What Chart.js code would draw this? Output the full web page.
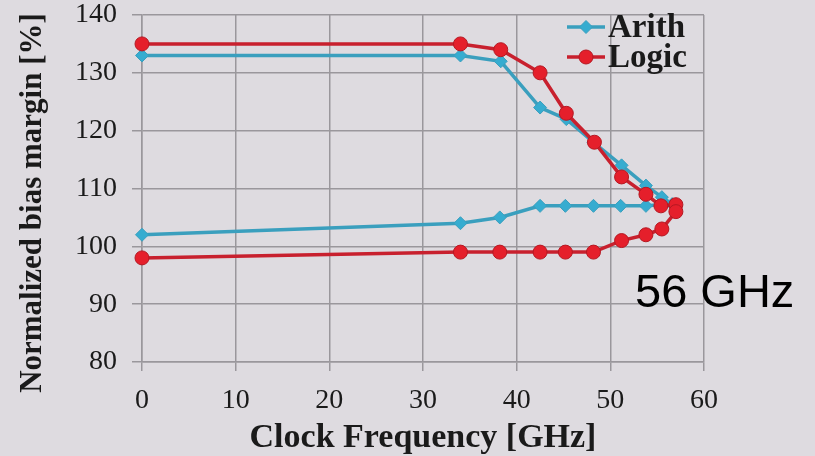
<!DOCTYPE html>
<html>
<head>
<meta charset="utf-8">
<script src="https://cdn.jsdelivr.net/npm/chart.js@4"></script>
<style>
  html, body { margin: 0; padding: 0; background: #dedbe0; }
  #wrap { width: 815px; height: 456px; }
</style>
</head>
<body>
<div id="wrap"><canvas id="c" width="815" height="456"></canvas></div>
<script>
// ---- data ----
const xTickValues = [0, 10, 20, 30, 40, 50, 60];
const yTickValues = [80, 90, 100, 110, 120, 130, 140];

const arithFreq   = [0, 34, 38.3, 42.5, 45.3, 48.2, 51.2, 53.8, 55.5, 56.6, 53.8, 51.1, 48.2, 45.2, 42.5, 38.2, 34, 0];
const arithMargin = [133, 133, 132, 124, 122, 118, 114, 110.5, 108.5, 107.3, 107, 107, 107, 107, 107, 105, 104, 102];

const logicFreq   = [0, 34, 38.3, 42.5, 45.3, 48.3, 51.2, 53.8, 55.4, 57, 57, 55.5, 53.8, 51.2, 48.2, 45.2, 42.5, 38.2, 34, 0];
const logicMargin = [135, 135, 134, 130, 123, 118, 112, 109, 107, 107.2, 106, 103, 102, 101, 99, 99, 99, 99, 99, 98];

const seriesNames = ['Arith', 'Logic'];
const xTitle = 'Clock Frequency [GHz]';
const yTitle = 'Normalized bias margin [%]';
const annotationText = '56 GHz';

// ---- styles ----
const TEAL_LINE = '#3a9fbe';
const TEAL_FILL = '#36acd0';
const RED_LINE = '#c8202e';
const RED_FILL = '#e51f2b';
const RED_EDGE = '#b51822';
const GRID = '#9a979c';
const TEXT = '#1a1a1a';
const SERIF = '"Liberation Serif", "DejaVu Serif", serif';

function pts(xs, ys) { return xs.map((x, i) => ({ x: x, y: ys[i] })); }

const overlay = {
  id: 'overlay',
  afterDraw(chart) {
    const ctx = chart.ctx;
    ctx.save();
    // y axis title
    ctx.fillStyle = TEXT;
    ctx.font = 'bold 31px ' + SERIF;
    ctx.textAlign = 'center';
    ctx.textBaseline = 'alphabetic';
    ctx.translate(41, 203);
    ctx.rotate(-Math.PI / 2);
    ctx.fillText(yTitle, 0, 0);
    ctx.restore();

    // legend
    const items = [
      { name: seriesNames[0], y: 27, line: TEAL_LINE, fill: TEAL_FILL, edge: TEAL_LINE, style: 'rectRot', r: 6.5 },
      { name: seriesNames[1], y: 57, line: RED_LINE, fill: RED_FILL, edge: RED_EDGE, style: 'circle', r: 7 }
    ];
    items.forEach(it => {
      ctx.save();
      ctx.strokeStyle = it.line;
      ctx.lineWidth = 3.5;
      ctx.beginPath();
      ctx.moveTo(567, it.y);
      ctx.lineTo(605, it.y);
      ctx.stroke();
      ctx.fillStyle = it.fill;
      ctx.strokeStyle = it.edge;
      ctx.lineWidth = 1;
      Chart.helpers.drawPoint(ctx, { pointStyle: it.style, radius: it.r, borderWidth: 1, rotation: 0 }, 586, it.y);
      ctx.fillStyle = TEXT;
      ctx.font = 'bold 33px ' + SERIF;
      ctx.textAlign = 'left';
      ctx.textBaseline = 'middle';
      ctx.fillText(it.name, 608, it.y + 1);
      ctx.restore();
    });

    // annotation
    ctx.save();
    ctx.fillStyle = '#000';
    ctx.font = '47px "Liberation Sans", Arial, sans-serif';
    ctx.textAlign = 'left';
    ctx.textBaseline = 'alphabetic';
    ctx.fillText(annotationText, 635, 307);
    ctx.restore();
  }
};

const bgPlugin = {
  id: 'bg',
  beforeDraw(chart) {
    const ctx = chart.ctx;
    ctx.save();
    ctx.fillStyle = '#dedbe0';
    ctx.fillRect(0, 0, chart.width, chart.height);
    ctx.restore();
  }
};

new Chart(document.getElementById('c'), {
  type: 'line',
  data: {
    datasets: [
      {
        label: seriesNames[0],
        data: pts(arithFreq, arithMargin),
        borderColor: TEAL_LINE,
        borderWidth: 3.5,
        backgroundColor: TEAL_FILL,
        pointStyle: 'rectRot',
        pointRadius: 6.5,
        pointBackgroundColor: TEAL_FILL,
        pointBorderColor: TEAL_LINE,
        pointBorderWidth: 1,
        tension: 0,
        clip: false,
        order: 2
      },
      {
        label: seriesNames[1],
        data: pts(logicFreq, logicMargin),
        borderColor: RED_LINE,
        borderWidth: 3.5,
        backgroundColor: RED_FILL,
        pointStyle: 'circle',
        pointRadius: 7,
        pointBackgroundColor: RED_FILL,
        pointBorderColor: RED_EDGE,
        pointBorderWidth: 1,
        tension: 0,
        clip: false,
        order: 1
      }
    ]
  },
  options: {
    responsive: false,
    animation: false,
    devicePixelRatio: 1,
    layout: { padding: { top: 15, right: 111, bottom: 0, left: 0 } },
    plugins: {
      legend: { display: false },
      tooltip: { enabled: false }
    },
    elements: { line: { fill: false } },
    scales: {
      x: {
        type: 'linear',
        min: 0, max: 60,
        afterFit(s) { s.height = 94; s.paddingLeft = 0; s.paddingRight = 0; },
        afterBuildTicks(s) { s.ticks = xTickValues.map(v => ({ value: v })); },
        grid: { color: GRID, lineWidth: 1.5, tickLength: 9, drawTicks: true },
        border: { color: GRID, width: 1.5 },
        ticks: {
          color: TEXT,
          font: { family: SERIF, size: 28 },
          padding: 13,
          maxRotation: 0
        },
        title: {
          display: true,
          text: xTitle,
          color: TEXT,
          font: { family: SERIF, size: 34, weight: 'bold', lineHeight: 1 },
          padding: { top: 0, bottom: 1 }
        }
      },
      y: {
        type: 'linear',
        min: 80, max: 140,
        afterFit(s) { s.width = 142; s.paddingTop = 0; s.paddingBottom = 0; },
        afterBuildTicks(s) { s.ticks = yTickValues.map(v => ({ value: v })); },
        grid: { color: GRID, lineWidth: 1.5, tickLength: 10, drawTicks: true },
        border: { color: GRID, width: 1.5 },
        ticks: {
          color: TEXT,
          font: { family: SERIF, size: 28 },
          padding: 15
        }
      }
    }
  },
  plugins: [bgPlugin, overlay]
});
</script>
</body>
</html>
